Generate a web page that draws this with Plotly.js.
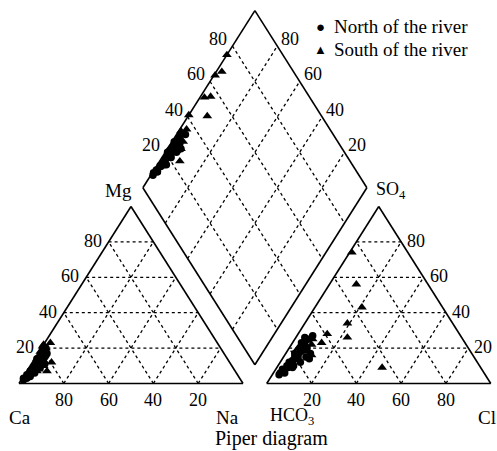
<!DOCTYPE html>
<html>
<head>
<meta charset="utf-8">
<script src="https://cdn.plot.ly/plotly-3.0.1.min.js"></script>
<style>html,body{margin:0;padding:0;background:#fff;}#chart{width:497px;height:451px;}</style>
</head>
<body>
<div id="chart"></div>
<script>
// ---------- data (milliequivalent percentages) ----------
const gridValues = [20, 40, 60, 80];
const seriesNames = ["North of the river", "South of the river"];

// North of the river (circles)
const northCa   = [97,96.5,94,94,92,91.5,89,89,88,85,86,84,85,83,80,81,79,80,90,86,93,83,83,81,82,88,95,83,78,79];
const northMg   = [2,3,4,5,6,7,8,9,10,11,12,13,14,15,16,17,18,19,6,9,4,11,13,15,16,8,3,12,20,17];
const northNa   = [1,0.5,2,1,2,1.5,3,2,2,4,2,3,1,2,4,2,3,1,4,5,3,6,4,4,2,4,2,5,2,4];
const northHCO3 = [92,91,89,89,86,86,83,84,82,79,80,78,79,76,73,75,72,73,79,75,84,72,72,71,70,83,89,74,69,66];
const northSO4  = [5,6,7,8,9,10,11,12,13,14,15,16,17,18,19,20,22,23,12,15,9,17,20,24,26,10,6,14,25,27];
const northCl   = [3,3,4,3,5,4,6,4,5,7,5,6,4,6,8,5,6,4,9,10,7,11,8,5,4,7,5,12,6,7];

// South of the river (triangles)
const southCa   = [78,74.5,81.5,78,79.5,79,88.5,85,84,81,93,87,81,84];
const southMg   = [22,23,18,20,12,21,7,14,10,16,5,8,18,7];
const southNa   = [0,2.5,0.5,2,8.5,0,4.5,1,6,3,2,5,1,9];
const southHCO3 = [25,32,36,47,51,59,44,76,72,64,84,69,67,76];
const southSO4  = [74,56,43,34,26,28,9,20,16,23,10,22,25,18];
const southCl   = [1,12,21,19,23,13,47,4,12,13,6,9,8,6];

// ---------- geometry ----------
const H = Math.sqrt(3) / 2;
const GAP = 10.6;
const OFF = 100 + GAP;

function cation(ca, mg, na) { const s = ca + mg + na; mg = mg / s * 100; na = na / s * 100; return [na + mg / 2, mg * H]; }
function anion(hc, so, cl) { const s = hc + so + cl; so = so / s * 100; cl = cl / s * 100; return [OFF + cl + so / 2, so * H]; }
function diamond(na, sc) { return [(na + OFF + sc) / 2, H * (OFF + sc - na)]; }

function project(ca, mg, na, hc, so, cl) {
  const xs = [], ys = [];
  for (let i = 0; i < ca.length; i++) { const p = cation(ca[i], mg[i], na[i]); xs.push(p[0]); ys.push(p[1]); }
  for (let i = 0; i < hc.length; i++) { const p = anion(hc[i], so[i], cl[i]); xs.push(p[0]); ys.push(p[1]); }
  for (let i = 0; i < ca.length; i++) {
    const sc = ca[i] + mg[i] + na[i], sa = hc[i] + so[i] + cl[i];
    const p = diamond(na[i] / sc * 100, (so[i] + cl[i]) / sa * 100);
    xs.push(p[0]); ys.push(p[1]);
  }
  return {x: xs, y: ys};
}

const pN = project(northCa, northMg, northNa, northHCO3, northSO4, northCl);
const pS = project(southCa, southMg, southNa, southHCO3, southSO4, southCl);

const traces = [
  {x: pN.x, y: pN.y, type: 'scatter', mode: 'markers', name: seriesNames[0], showlegend: false,
   marker: {symbol: 'circle', size: 7.5, color: '#000'}, cliponaxis: false},
  {x: pS.x, y: pS.y, type: 'scatter', mode: 'markers', name: seriesNames[1], showlegend: false,
   marker: {symbol: 'triangle-up', size: 8.5, color: '#000'}, cliponaxis: false}
];

// ---------- frame + grid ----------
const shapes = [];
function line(p, q, dashed) {
  shapes.push({type: 'line', xref: 'x', yref: 'y', x0: p[0], y0: p[1], x1: q[0], y1: q[1], layer: 'below',
    line: {color: '#000', width: dashed ? 1.3 : 1.6, dash: dashed ? '3px,3px' : 'solid'}});
}
// outlines
line([0, 0], [100, 0]); line([100, 0], [50, 100 * H]); line([50, 100 * H], [0, 0]);
line([OFF, 0], [OFF + 100, 0]); line([OFF + 100, 0], [OFF + 50, 100 * H]); line([OFF + 50, 100 * H], [OFF, 0]);
const dB = diamond(100, 0), dL = diamond(0, 0), dT = diamond(0, 100), dR = diamond(100, 100);
line(dB, dL); line(dL, dT); line(dT, dR); line(dR, dB);
// grids
gridValues.forEach(k => {
  // cation triangle
  line([k / 2, k * H], [100 - k / 2, k * H], true);
  line([k, 0], [k + (100 - k) / 2, (100 - k) * H], true);
  line([100 - k, 0], [(100 - k) / 2, (100 - k) * H], true);
  // anion triangle
  line([OFF + k / 2, k * H], [OFF + 100 - k / 2, k * H], true);
  line([OFF + k, 0], [OFF + k + (100 - k) / 2, (100 - k) * H], true);
  line([OFF + 100 - k, 0], [OFF + (100 - k) / 2, (100 - k) * H], true);
  // diamond
  line(diamond(k, 0), diamond(k, 100), true);
  line(diamond(0, k), diamond(100, k), true);
});

// ---------- text ----------
const FONT = 'Liberation Serif, Times New Roman, serif';
const ann = [];
function txt(x, y, t, size, xa, ya, xs, ys, ref) {
  ann.push({x: x, y: y, xref: ref ? 'paper' : 'x', yref: ref ? 'paper' : 'y', text: t, showarrow: false,
    xanchor: xa || 'center', yanchor: ya || 'middle', xshift: xs || 0, yshift: ys || 0,
    font: {family: FONT, size: size, color: '#000'}});
}
const TK = 18;
gridValues.forEach(k => {
  txt(k, 0, String(100 - k), TK, 'center', 'top', 0, -4);           // Ca along cation base
  txt(k / 2, k * H, String(k), TK, 'right', 'middle', -5, 1);        // Mg along cation left side
  txt(OFF + k, 0, String(k), TK, 'center', 'top', 0, -4);           // Cl along anion base
  txt(OFF + 100 - k / 2, k * H, String(k), TK, 'left', 'middle', 4, 1); // SO4 along anion right side
  const a = diamond(0, k); txt(a[0], a[1], String(k), TK, 'right', 'bottom', -3, -5);
  const b = diamond(100 - k, 100); txt(b[0], b[1], String(k), TK, 'left', 'bottom', 2, -5);
});
txt(0.5, -16.4, 'Ca', 19);
txt(93.3, -16.4, 'Na', 19);
txt(121.9, -16.2, 'HCO<sub>3</sub>', 18);
txt(208.9, -16.4, 'Cl', 19);
txt(44.2, 94.6, 'Mg', 19);
txt(158.5, 94.2, 'SO<sub>4</sub>', 18, 'left');
txt(112.9, -27.0, 'Piper diagram', 20);

// legend (symbol + label)
txt(320.7 / 497, 1 - 27 / 451, '\u25CF', 15, 'center', 'middle', 0, 0, true);
txt(332 / 497, 1 - 27 / 451, seriesNames[0], 19, 'left', 'middle', 0, 0, true);
txt(320.7 / 497, 1 - 50 / 451, '\u25B2', 13, 'center', 'middle', 0, 0, true);
txt(332 / 497, 1 - 50 / 451, seriesNames[1], 19, 'left', 'middle', 0, 0, true);

const layout = {
  width: 497, height: 451,
  margin: {l: 0, r: 0, t: 0, b: 0},
  paper_bgcolor: '#fff', plot_bgcolor: '#fff',
  xaxis: {range: [-8.482, 213.39], visible: false, fixedrange: true},
  yaxis: {range: [-33.02, 187.6], visible: false, fixedrange: true},
  shapes: shapes, annotations: ann,
  showlegend: false
};

Plotly.newPlot('chart', traces, layout, {staticPlot: true, displayModeBar: false});
</script>
</body>
</html>
